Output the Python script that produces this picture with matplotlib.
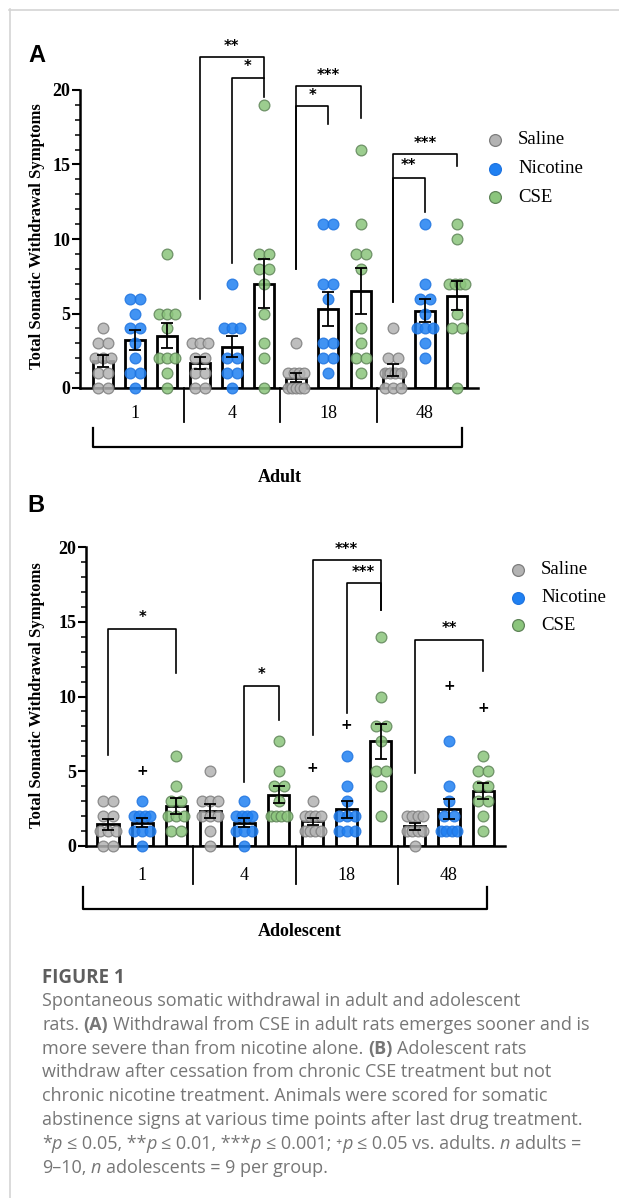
import matplotlib
matplotlib.use('Agg')
import matplotlib.pyplot as plt
import numpy as np
from matplotlib.lines import Line2D

W, H, DPI = 619, 1198, 100

# ---------------- data ----------------
timepoints = ['1', '4', '18', '48']
treatments = ['Saline', 'Nicotine', 'CSE']

adult_saline = [[4, 3, 3, 2, 2, 2, 1, 1, 0, 0], [3, 3, 3, 2, 2, 1, 1, 0, 0],
                [3, 1, 1, 1, 1, 0, 0, 0, 0, 0], [4, 2, 2, 1, 1, 1, 1, 0, 0, 0]]
adult_nicotine = [[6, 6, 5, 4, 4, 3, 2, 1, 1, 0], [7, 4, 4, 4, 2, 2, 1, 1, 0],
                  [11, 11, 7, 7, 6, 3, 3, 2, 2, 1], [11, 7, 6, 6, 5, 4, 4, 4, 3, 2]]
adult_cse = [[9, 5, 5, 5, 4, 2, 2, 2, 1, 0], [19, 9, 9, 8, 8, 7, 5, 3, 2, 0],
             [16, 11, 9, 9, 8, 4, 3, 2, 2, 1], [11, 10, 7, 7, 7, 7, 5, 4, 4, 0]]

adol_saline = [[3, 3, 2, 2, 1, 1, 1, 0, 0], [5, 3, 3, 3, 2, 2, 2, 1, 0],
               [3, 2, 2, 2, 2, 1, 1, 1, 1], [2, 2, 2, 2, 1, 1, 1, 1, 0]]
adol_nicotine = [[3, 2, 2, 2, 2, 1, 1, 1, 0], [3, 2, 2, 2, 2, 1, 1, 1, 0],
                 [6, 4, 3, 2, 2, 2, 1, 1, 1], [7, 4, 3, 2, 2, 1, 1, 1, 1]]
adol_cse = [[6, 4, 3, 3, 2, 2, 2, 1, 1], [7, 5, 4, 4, 3, 2, 2, 2, 2],
            [14, 10, 8, 8, 7, 5, 5, 4, 2], [6, 5, 5, 4, 4, 3, 3, 2, 1]]

# significance brackets: (left bar, right bar, top, left leg bottom, right leg bottom, label, label y)
adult_brackets = [(3, 5, 22.2, 6.0, 20.8, '**', 22.9), (4, 5, 20.8, 8.4, 19.5, '*', 21.6),
                  (6, 8, 20.3, 8.0, 18.1, '***', 21.0), (6, 7, 18.9, 8.0, 17.7, '*', 19.6),
                  (9, 11, 15.7, 5.8, 14.9, '***', 16.4), (9, 10, 14.1, 5.8, 11.8, '**', 14.95)]
adol_brackets = [(0, 2, 14.5, 6.1, 11.6, '*', 15.3), (4, 5, 10.7, 4.3, 8.4, '*', 11.5),
                 (6, 8, 19.1, 7.4, 15.8, '***', 19.85), (7, 8, 17.6, 8.9, 15.8, '***', 18.3),
                 (9, 11, 13.8, 4.9, 11.7, '**', 14.55)]
# "+" vs adults: (bar index, y)
adol_plus = [(1, 5.0), (6, 5.2), (7, 8.1), (10, 10.7), (11, 9.25)]

fill_cols = ['#b3b3b3', '#1f80f2', '#8bc57c']
edge_cols = ['#7d7d7d', '#1f74e0', '#5f8458']

SERIF = 'Liberation Serif'

fig = plt.figure(figsize=(W / DPI, H / DPI), dpi=DPI)
fig.patch.set_facecolor('white')


def fx(x):
    return x / W


def fy(y):
    return 1 - y / H


def swarm_offsets(vals, step, maxw):
    vals = np.asarray(vals, dtype=float)
    off = np.zeros(len(vals))
    for v in np.unique(vals):
        idx = np.where(vals == v)[0]
        k = len(idx)
        if k > 1:
            sp = min(step, maxw / (k - 1))
            off[idx] = (np.arange(k) - (k - 1) / 2) * sp
    return off


def panel(L, R, y0, s, first_x, spacing, top, groups_data, brackets, plus,
          lab_y, sep_bot, br_x, br_y, title, title_xy, ylab_xy, legend_xy, letter, letter_xy):
    xl = (L - first_x) / spacing
    xr = (R - first_x) / spacing
    ax = fig.add_axes([fx(L), fy(y0), (R - L) / W, top * s / H])
    ax.set_xlim(xl, xr)
    ax.set_ylim(0, top)
    for sp in ['top', 'right']:
        ax.spines[sp].set_visible(False)
    ax.spines['left'].set_bounds(0, 20)
    ax.spines['left'].set_linewidth(1.8)
    ax.spines['bottom'].set_linewidth(1.8)
    ax.set_yticks([0, 5, 10, 15, 20])
    ax.set_yticks(np.arange(0, 21, 1), minor=True)
    ax.set_xticks([])
    ax.tick_params(axis='y', which='major', length=6, width=1.5, pad=1)
    ax.tick_params(axis='y', which='minor', length=3.5, width=1.1)
    for lab in ax.get_yticklabels():
        lab.set_fontfamily(SERIF)
        lab.set_fontweight('bold')
        lab.set_fontsize(13)

    step = 10.0 / spacing
    maxw = 16.0 / spacing
    for g in range(4):
        for t in range(3):
            vals = groups_data[t][g]
            i = g * 3 + t
            m = np.mean(vals)
            sem = np.std(vals, ddof=1) / np.sqrt(len(vals))
            ax.bar(i, m, width=0.62, facecolor='white', edgecolor='black',
                   linewidth=2.0, zorder=2)
            off = swarm_offsets(vals, step, maxw)
            ax.scatter(i + off, vals, s=60, c=fill_cols[t], edgecolors=edge_cols[t],
                       linewidths=0.9, alpha=0.85, zorder=3, clip_on=False)
            ax.errorbar(i, m, yerr=sem, fmt='none', ecolor='black', elinewidth=1.3,
                        capsize=4, capthick=1.3, zorder=4)
        ax.text(g * 3 + 1, lab_y, timepoints[g], ha='center', va='center',
                fontfamily=SERIF, fontsize=13)
    for xs in [2.5, 5.5, 8.5]:
        ax.plot([xs, xs], [0, sep_bot], color='black', lw=1.3, clip_on=False)
    # lower bracket
    bl, brr = br_x
    yt, yb = br_y
    ax.plot([bl, bl, brr, brr], [yt, yb, yb, yt], color='black', lw=1.6, clip_on=False)
    ax.text(title_xy[0], title_xy[1], title, ha='center', va='center', fontfamily=SERIF,
            fontweight='bold', fontsize=13)
    # significance brackets
    for a, b, ytop, ylb, yrb, lab, ly in brackets:
        ax.plot([a, a, b, b], [ylb, ytop, ytop, yrb], color='black', lw=1.2, clip_on=False)
        ax.text((a + b) / 2, ly, lab, ha='center', va='center', fontfamily='DejaVu Sans',
                fontweight='bold', fontsize=10.5)
    for i, y in plus:
        ax.text(i, y, '+', ha='center', va='center', fontfamily='DejaVu Sans',
                fontweight='bold', fontsize=10)
    # y label
    fig.text(fx(ylab_xy[0]), fy(ylab_xy[1]), 'Total Somatic Withdrawal Symptoms', rotation=90,
             ha='center', va='center', fontfamily=SERIF, fontweight='bold', fontsize=12)
    # legend
    lx, ly0, dy = legend_xy
    for t in range(3):
        fig.add_artist(Line2D([fx(lx)], [fy(ly0 + t * dy)], marker='o', markersize=8.5,
                              markerfacecolor=fill_cols[t], markeredgecolor=edge_cols[t],
                              markeredgewidth=0.9, linestyle='none', transform=fig.transFigure))
        fig.text(fx(lx + 23), fy(ly0 + t * dy), treatments[t], ha='left', va='center',
                 fontfamily=SERIF, fontsize=13.5)
    fig.text(fx(letter_xy[0]), fy(letter_xy[1]), letter, ha='left', va='center',
             fontfamily='Liberation Sans', fontweight='bold', fontsize=17)
    return ax


# Panel A
sA = 14.9
panel(L=80, R=478, y0=388, s=sA, first_x=103, spacing=32.2, top=23.6,
      groups_data=[adult_saline, adult_nicotine, adult_cse], brackets=adult_brackets, plus=[],
      lab_y=-(413 - 388) / sA, sep_bot=-(422 - 388) / sA,
      br_x=((93 - 103) / 32.2, (462 - 103) / 32.2), br_y=(-(428 - 388) / sA, -(447 - 388) / sA),
      title='Adult', title_xy=((280 - 103) / 32.2, -(478 - 388) / sA),
      ylab_xy=(37, 236), legend_xy=(495, 140, 28.5), letter='A', letter_xy=(28, 56))

# Panel B
sB = 14.95
panel(L=86, R=505, y0=846, s=sB, first_x=108, spacing=34.1, top=21.0,
      groups_data=[adol_saline, adol_nicotine, adol_cse], brackets=adol_brackets, plus=adol_plus,
      lab_y=-(875 - 846) / sB, sep_bot=-(884 - 846) / sB,
      br_x=((83 - 108) / 34.1, (487 - 108) / 34.1), br_y=(-(887 - 846) / sB, -(909 - 846) / sB),
      title='Adolescent', title_xy=((300 - 108) / 34.1, -(932 - 846) / sB),
      ylab_xy=(37, 695), legend_xy=(518, 570, 27.5), letter='B', letter_xy=(27, 506))

# border lines
fig.add_artist(Line2D([fx(9), 1], [fy(9.5), fy(9.5)], color='#d4d4d4', lw=1.2,
                      transform=fig.transFigure))
fig.add_artist(Line2D([fx(9.5), fx(9.5)], [fy(9), 0], color='#d4d4d4', lw=1.2,
                      transform=fig.transFigure))

# caption
CAP_FAM = ['Open Sans', 'DejaVu Sans']
CAP_COL = '#767676'
CAP_SIZE = 13.0
fig.text(fx(42), fy(983), 'FIGURE 1', ha='left', va='baseline', fontfamily=CAP_FAM,
         fontweight='bold', fontsize=13.5, color='#5e5e5e')

renderer = fig.canvas.get_renderer()


def text_width(txt, **kw):
    t = fig.text(0, 0, txt, **kw)
    w = t.get_window_extent(renderer).width
    t.remove()
    return w


def rich_line(x0, ybase, segs):
    x = x0
    base_kw = dict(fontsize=CAP_SIZE, color=CAP_COL, fontfamily=CAP_FAM)
    space_w = text_width('x x', **base_kw) - text_width('xx', **base_kw)
    for txt, style in segs:
        kw = dict(base_kw)
        if 'b' in style:
            kw['fontweight'] = 'bold'
        if 'i' in style:
            kw['fontstyle'] = 'italic'
        lead = len(txt) - len(txt.lstrip(' '))
        trail = len(txt) - len(txt.rstrip(' '))
        core = txt.strip(' ')
        x += lead * space_w
        if core:
            t = fig.text(fx(x), fy(ybase), core, ha='left', va='baseline', **kw)
            x += t.get_window_extent(renderer).width
        x += trail * space_w


caption = [
    [('Spontaneous somatic withdrawal in adult and adolescent', '')],
    [('rats. ', ''), ('(A)', 'b'), (' Withdrawal from CSE in adult rats emerges sooner and is', '')],
    [('more severe than from nicotine alone. ', ''), ('(B)', 'b'), (' Adolescent rats', '')],
    [('withdraw after cessation from chronic CSE treatment but not', '')],
    [('chronic nicotine treatment. Animals were scored for somatic', '')],
    [('abstinence signs at various time points after last drug treatment.', '')],
    [('*', ''), ('p', 'i'), (' \u2264 0.05, **', ''), ('p', 'i'), (' \u2264 0.01, ***', ''), ('p', 'i'),
     (' \u2264 0.001; \u207a', ''), ('p', 'i'), (' \u2264 0.05 vs. adults. ', ''), ('n', 'i'),
     (' adults =', '')],
    [('9\u201310, ', ''), ('n', 'i'), (' adolescents = 9 per group.', '')],
]
for k, segs in enumerate(caption):
    rich_line(42, 1006 + k * 23.8, segs)

fig.savefig('out.png', dpi=DPI, facecolor='white')
